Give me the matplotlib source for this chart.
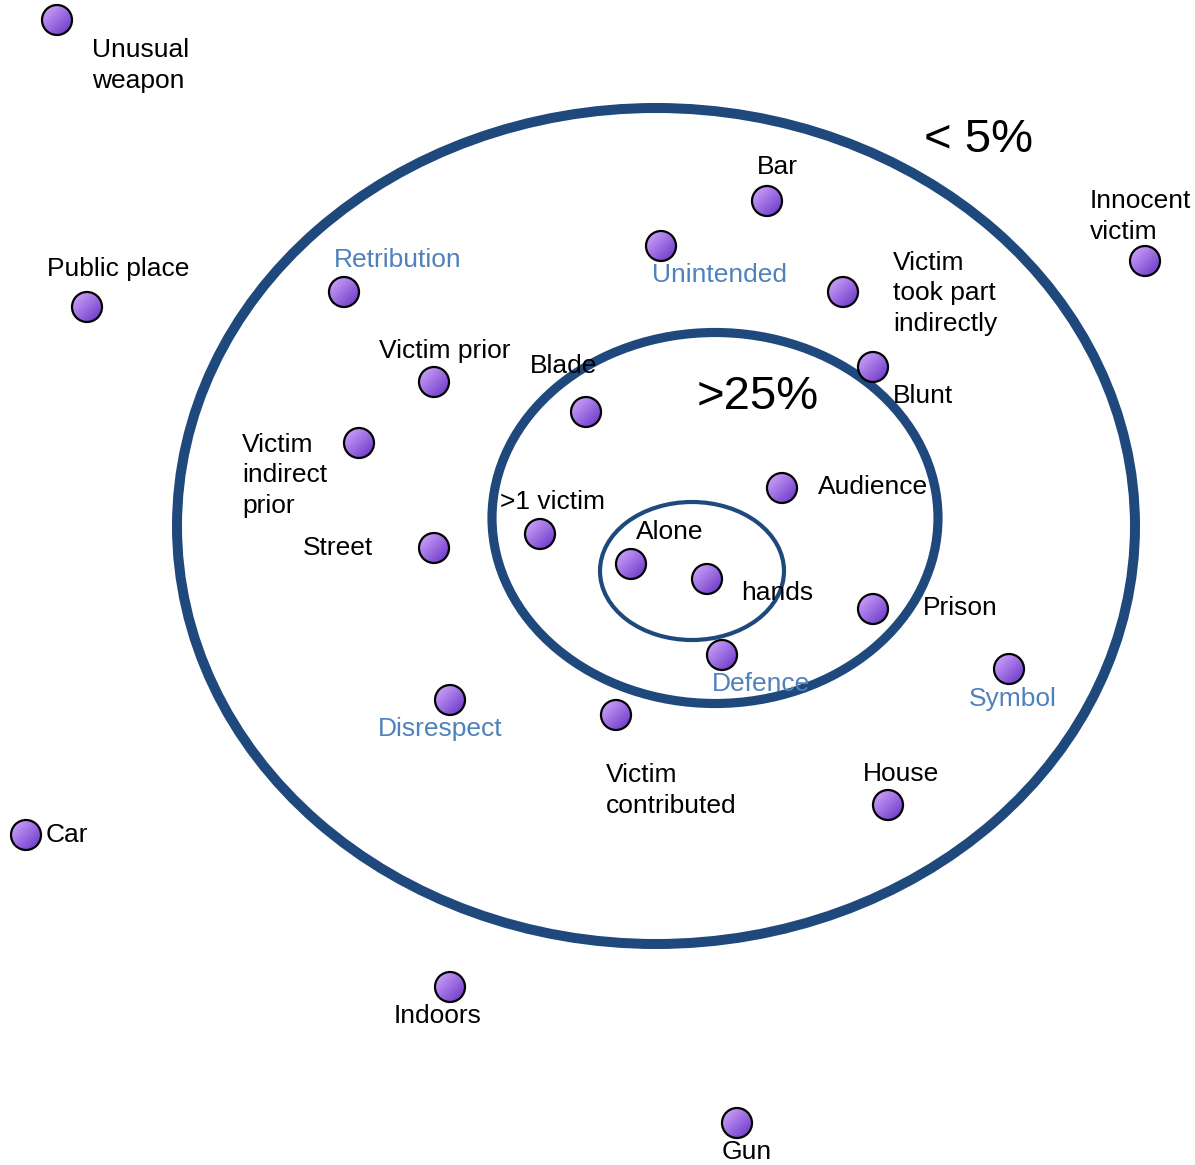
import numpy as np
import matplotlib
matplotlib.use('Agg')
import matplotlib.pyplot as plt
from matplotlib.patches import Ellipse, Circle

plt.rcParams['font.family'] = ['Liberation Sans', 'DejaVu Sans']

# factor positions on the diagram (pixel-like coordinates, y down)
names = ['Unusual weapon', 'Public place', 'Retribution', 'Unintended', 'Bar',
         'Victim took part indirectly', 'Innocent victim', 'Blunt', 'Victim prior',
         'Blade', 'Victim indirect prior', 'Audience', '>1 victim', 'Street',
         'Alone', 'hands', 'Prison', 'Defence', 'Symbol', 'Disrespect',
         'Victim contributed', 'House', 'Car', 'Indoors', 'Gun']
pt_x = [57, 87, 344, 661, 767, 843, 1145, 873, 434, 586, 359, 782, 540, 434,
        631, 707, 873, 722, 1009, 450, 616, 888, 26, 450, 737]
pt_y = [20, 307, 292, 246, 201, 292, 261, 367, 382, 412, 443, 488, 534, 548,
        564, 579, 609, 655, 669, 700, 715, 805, 835, 987, 1123]

# label text, anchor (left x, last-line baseline y)
labels = ['Unusual\nweapon', 'Public place', 'Retribution', 'Unintended', 'Bar',
          'Victim\ntook part\nindirectly', 'Innocent\nvictim', 'Blunt', 'Victim prior',
          'Blade', 'Victim\nindirect\nprior', 'Audience', '>1 victim', 'Street',
          'Alone', 'hands', 'Prison', 'Defence', 'Symbol', 'Disrespect',
          'Victim\ncontributed', 'House', 'Car', 'Indoors', 'Gun']
lab_x = [92, 47, 334, 652, 757, 893, 1090, 893, 379, 530, 242, 818, 500, 303,
         636, 741, 923, 712, 969, 378, 606, 863, 46, 394, 722]
lab_y = [88, 276, 267, 282, 174, 331, 239, 403, 358, 373, 513, 494, 509, 555,
         539, 600, 615, 691, 706, 736, 813, 781, 842, 1023, 1159]
blue_labels = ['Retribution', 'Unintended', 'Defence', 'Symbol', 'Disrespect']

# rings: centre x, centre y, width, height, line width
rings_cx = [656, 715, 692]
rings_cy = [526, 518, 571]
rings_w = [958, 446, 184]
rings_h = [836, 371, 138]
rings_lw = [7.2, 6.6, 3.0]
ring_labels = ['< 5%', '>25%']
ring_lab_x = [924, 697]
ring_lab_y = [152, 409]

ring_col = '#1f497d'
blue_txt = '#4f81bd'

fig = plt.figure(figsize=(11.95, 11.65), dpi=100)
ax = fig.add_axes([0, 0, 1, 1])
ax.set_xlim(0, 1195)
ax.set_ylim(1165, 0)
ax.set_aspect('equal')
ax.axis('off')

for cx, cy, w, h, lw in zip(rings_cx, rings_cy, rings_w, rings_h, rings_lw):
    ax.add_patch(Ellipse((cx, cy), w, h, fill=False, edgecolor=ring_col, lw=lw, zorder=2))

# gradient for the markers (light top-left -> dark bottom-right)
g = np.linspace(0, 1, 64)
gx, gy = np.meshgrid(g, g)
t = (gx + gy) / 2
c0 = np.array([0xd8, 0xae, 0xff]) / 255
c1 = np.array([0x62, 0x2e, 0xc4]) / 255
grad = c0[None, None, :] * (1 - t[..., None]) + c1[None, None, :] * t[..., None]

r = 15
for x, y in zip(pt_x, pt_y):
    im = ax.imshow(grad, extent=[x - r, x + r, y + r, y - r], zorder=3, interpolation='bilinear')
    clip = Circle((x, y), r, transform=ax.transData)
    im.set_clip_path(clip)
    ax.add_patch(Circle((x, y), r, fill=False, edgecolor='black', lw=1.6, zorder=4))

for txt, x, y in zip(labels, lab_x, lab_y):
    col = blue_txt if txt in blue_labels else 'black'
    ax.text(x, y, txt, fontsize=19, color=col, ha='left', va='baseline',
            linespacing=1.35, zorder=5)

for txt, x, y in zip(ring_labels, ring_lab_x, ring_lab_y):
    ax.text(x, y, txt, fontsize=34, color='black', ha='left', va='baseline', zorder=5)

ax.set_xlim(0, 1195)
ax.set_ylim(1165, 0)
fig.savefig('out.png', dpi=100)
